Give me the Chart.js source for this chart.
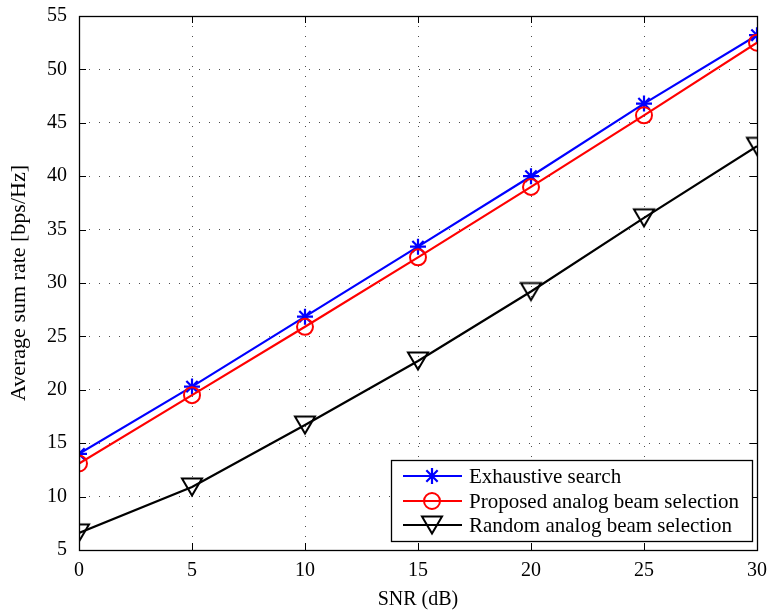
<!DOCTYPE html>
<html>
<head>
<meta charset="utf-8">
<script src="https://cdn.jsdelivr.net/npm/chart.js@4.4.1/dist/chart.umd.min.js"></script>
<style>
  html, body { margin: 0; padding: 0; background: #fff; }
  #wrap { width: 769px; height: 613px; position: relative; }
</style>
</head>
<body>
<div id="wrap"><canvas id="c" width="769" height="613"></canvas></div>
<script>
// ---- data ----
const snr = [0, 5, 10, 15, 20, 25, 30];
const exhaustive = [14.0, 20.3, 26.85, 33.4, 40.0, 46.8, 53.2];
const proposed = [13.1, 19.5, 25.9, 32.4, 39.0, 45.7, 52.5];
const randomSel = [6.6, 10.9, 16.7, 22.7, 29.2, 36.1, 42.8];
const xTicks = [0, 5, 10, 15, 20, 25, 30];
const yTicks = [5, 10, 15, 20, 25, 30, 35, 40, 45, 50, 55];
const seriesLabels = ['Exhaustive search', 'Proposed analog beam selection', 'Random analog beam selection'];

const FONT = '"Liberation Serif", "Times New Roman", serif';

// downward triangle marker, centred on its bounding box
function triCanvas() {
  const c = document.createElement('canvas');
  c.width = 24; c.height = 22;
  const g = c.getContext('2d');
  g.strokeStyle = '#000'; g.lineWidth = 2; g.lineJoin = 'miter';
  g.beginPath();
  g.moveTo(2, 2.5); g.lineTo(22, 2.5); g.lineTo(12, 19.5); g.closePath();
  g.stroke();
  return c;
}
const triImg = triCanvas();

const pts = (ys) => snr.map((x, i) => ({x: x, y: ys[i]}));

function zeroPad(s) { s.paddingTop = 0; s.paddingBottom = 0; s.paddingLeft = 0; s.paddingRight = 0; }

const boxPlugin = {
  id: 'boxTicks',
  afterDatasetsDraw(chart) {
    const {ctx, chartArea: a, scales} = chart;
    ctx.save();
    ctx.strokeStyle = '#000';
    ctx.lineWidth = 1;
    ctx.setLineDash([]);
    const L = 7;
    ctx.beginPath();
    xTicks.forEach(v => {
      const x = Math.round(scales.x.getPixelForValue(v)) + 0.5;
      ctx.moveTo(x, a.bottom); ctx.lineTo(x, a.bottom - L);
      ctx.moveTo(x, a.top); ctx.lineTo(x, a.top + L);
    });
    yTicks.forEach(v => {
      const y = Math.round(scales.y.getPixelForValue(v)) + 0.5;
      ctx.moveTo(a.left, y); ctx.lineTo(a.left + L, y);
      ctx.moveTo(a.right, y); ctx.lineTo(a.right - L, y);
    });
    ctx.stroke();
    ctx.lineWidth = 1.3;
    ctx.strokeRect(Math.round(a.left) + 0.5, Math.round(a.top) + 0.5,
                   Math.round(a.right - a.left), Math.round(a.bottom - a.top));
    ctx.restore();
  },
  afterDraw(chart) {
    const {ctx} = chart;
    const bx = 391, by = 460, bw = 361, bh = 81;
    ctx.save();
    ctx.fillStyle = '#fff';
    ctx.fillRect(bx, by, bw, bh);
    ctx.strokeStyle = '#000';
    ctx.lineWidth = 1.3;
    ctx.strokeRect(bx + 0.5, by + 0.5, bw, bh);
    const rows = [476, 501, 525];
    chart.data.datasets.forEach((ds, i) => {
      const y = rows[i];
      ctx.strokeStyle = ds.borderColor;
      ctx.lineWidth = ds.borderWidth;
      ctx.setLineDash([]);
      ctx.beginPath();
      ctx.moveTo(403, y); ctx.lineTo(462, y);
      ctx.stroke();
      ctx.fillStyle = 'rgba(0,0,0,0)';
      ctx.lineWidth = ds.pointBorderWidth;
      Chart.helpers.drawPoint(ctx, {
        pointStyle: ds.pointStyle,
        radius: ds.pointRadius,
        borderWidth: ds.pointBorderWidth,
        rotation: 0
      }, 432, y);
      ctx.fillStyle = '#000';
      ctx.font = '21px ' + FONT;
      ctx.textBaseline = 'middle';
      ctx.textAlign = 'left';
      ctx.fillText(ds.label, 469, y + 1);
    });
    ctx.restore();
  }
};

new Chart(document.getElementById('c'), {
  type: 'line',
  data: {
    datasets: [
      {
        label: seriesLabels[0], data: pts(exhaustive),
        borderColor: '#0000ff', borderWidth: 2.2,
        pointStyle: 'star', pointRadius: 8, pointBorderWidth: 2.2,
        pointBorderColor: '#0000ff', pointBackgroundColor: 'rgba(0,0,0,0)',
        order: 3
      },
      {
        label: seriesLabels[1], data: pts(proposed),
        borderColor: '#ff0000', borderWidth: 2.2,
        pointStyle: 'circle', pointRadius: 8, pointBorderWidth: 2,
        pointBorderColor: '#ff0000', pointBackgroundColor: 'rgba(0,0,0,0)',
        order: 2
      },
      {
        label: seriesLabels[2], data: pts(randomSel),
        borderColor: '#000000', borderWidth: 2.2,
        pointStyle: triImg, pointRadius: 10, pointBorderWidth: 2,
        pointBorderColor: '#000000', pointBackgroundColor: 'rgba(0,0,0,0)',
        order: 1
      }
    ]
  },
  options: {
    responsive: false,
    animation: false,
    events: [],
    layout: { padding: { top: 16, right: 12, left: 0, bottom: 0 } },
    plugins: { legend: { display: false }, tooltip: { enabled: false } },
    elements: { line: { tension: 0 } },
    scales: {
      x: {
        type: 'linear', min: 0, max: 30,
        afterFit(s) { s.height = 63; zeroPad(s); },
        afterBuildTicks(s) { s.ticks = xTicks.map(v => ({value: v})); },
        grid: { color: 'rgba(0,0,0,0.7)', lineWidth: 1, drawTicks: false },
        border: { display: false, dash: [1, 9] },
        ticks: { color: '#000', padding: 9, maxRotation: 0, font: { family: FONT, size: 20 } },
        title: { display: true, text: 'SNR (dB)', color: '#000', font: { family: FONT, size: 20 }, padding: { top: 0, bottom: 1 } }
      },
      y: {
        type: 'linear', min: 5, max: 55,
        afterFit(s) { s.width = 79; zeroPad(s); },
        afterBuildTicks(s) { s.ticks = yTicks.map(v => ({value: v})); },
        grid: { color: 'rgba(0,0,0,0.7)', lineWidth: 1, drawTicks: false },
        border: { display: false, dash: [1, 9] },
        ticks: { color: '#000', padding: 12, font: { family: FONT, size: 20 } },
        title: { display: true, text: 'Average sum rate [bps/Hz]', color: '#000', font: { family: FONT, size: 22 }, padding: { top: 6, bottom: 0 } }
      }
    }
  },
  plugins: [boxPlugin]
});
</script>
</body>
</html>
